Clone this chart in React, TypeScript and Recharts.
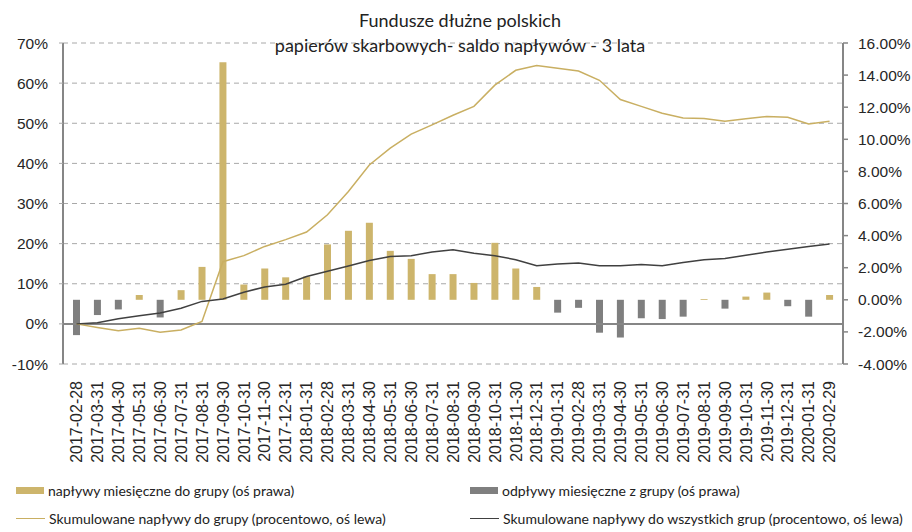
import { ComposedChart, Bar, Line, XAxis, YAxis, CartesianGrid, ReferenceLine } from 'recharts';

const dates = [
  '2017-02-28', '2017-03-31', '2017-04-30', '2017-05-31', '2017-06-30', '2017-07-31', '2017-08-31',
  '2017-09-30', '2017-10-31', '2017-11-30', '2017-12-31', '2018-01-31', '2018-02-28', '2018-03-31',
  '2018-04-30', '2018-05-31', '2018-06-30', '2018-07-31', '2018-08-31', '2018-09-30', '2018-10-31',
  '2018-11-30', '2018-12-31', '2019-01-31', '2019-02-28', '2019-03-31', '2019-04-30', '2019-05-31',
  '2019-06-30', '2019-07-31', '2019-08-31', '2019-09-30', '2019-10-31', '2019-11-30', '2019-12-31',
  '2020-01-31', '2020-02-29',
];

// monthly inflows / outflows, right axis (%)
const inflows = [
  0, 0, 0, 0.3, 0, 0.6, 2.05, 14.8, 0.95, 1.95, 1.4, 1.45, 3.45, 4.3, 4.8, 3.05, 2.55, 1.6, 1.6,
  1.05, 3.55, 1.95, 0.8, 0, 0, 0, 0, 0, 0, 0, 0.05, 0, 0.2, 0.45, 0, 0, 0.3,
];
const outflows = [
  -2.2, -0.95, -0.6, 0, -1.1, 0, 0, 0, 0, 0, 0, 0, 0, 0, 0, 0, 0, 0, 0,
  0, 0, 0, 0, -0.8, -0.5, -2.05, -2.35, -1.15, -1.2, -1.05, 0, -0.55, 0, 0, -0.4, -1.05, 0,
];

// cumulative inflows, left axis (%)
const cumGroup = [
  0, -0.9, -1.7, -1.1, -2.1, -1.5, 0.6, 15.5, 17, 19.3, 21, 22.9, 27.2, 33, 39.6, 43.8, 47.3, 49.6, 52,
  54.2, 59.5, 63.2, 64.4, 63.7, 63, 60.7, 55.9, 54.2, 52.5, 51.3, 51.2, 50.5, 51.1, 51.7, 51.5, 49.8, 50.5,
];
const cumAll = [
  0, 0.3, 1.3, 2, 2.7, 3.9, 5.6, 6.2, 7.9, 9.2, 9.9, 11.8, 13.1, 14.4, 15.8, 16.8, 17, 17.9, 18.5,
  17.6, 17, 16, 14.5, 14.9, 15.2, 14.5, 14.5, 14.8, 14.5, 15.3, 16, 16.3, 17.1, 17.9, 18.6, 19.3, 19.9,
];

const leftTicks = [-10, 0, 10, 20, 30, 40, 50, 60, 70];
const rightTicks = [-4, -2, 0, 2, 4, 6, 8, 10, 12, 14, 16];

const GOLD = '#CDB56C';
const GOLD_LINE = '#C9AF62';
const GRAY = '#7F7F7F';
const DARK = '#404040';
const AXIS = '#868686';

const data = dates.map((d, i) => ({
  date: d,
  inflow: inflows[i],
  outflow: outflows[i],
  cumGroup: cumGroup[i],
  cumAll: cumAll[i],
}));

const DateTick = (props: any) => {
  const { x, y, payload } = props;
  return (
    <text
      x={x}
      y={y}
      transform={`rotate(-90, ${x}, ${y})`}
      textAnchor="end"
      dy="0.36em"
      fontSize={16}
      fontFamily="'Liberation Sans', Arial, sans-serif"
      fill="#262626"
    >
      {payload.value}
    </text>
  );
};

const axisFont = { fontSize: 15.5, fill: '#262626', fontFamily: "'Liberation Sans', Arial, sans-serif" };
const legendFont = "Lato, 'Noto Sans', sans-serif";

export default function App() {
  return (
    <div style={{ position: 'absolute', left: 0, top: 0, width: 912, height: 532, background: '#fff' }}>
      <ComposedChart
        width={912}
        height={532}
        data={data}
        stackOffset="sign"
        margin={{ top: 43, right: 0, bottom: 68, left: 0 }}
      >
        <CartesianGrid yAxisId="left" vertical={false} stroke="#A8A8A8" strokeDasharray="5 4" />
        <XAxis
          dataKey="date"
          interval={0}
          axisLine={false}
          tickLine={false}
          height={100}
          padding={{ left: 3, right: 3 }}
          tick={<DateTick />}
          tickMargin={11}
        />
        <YAxis
          yAxisId="left"
          domain={[-10, 70]}
          ticks={leftTicks}
          interval={0}
          width={63}
          tickFormatter={(v: number) => `${v}%`}
          tick={axisFont}
          tickSize={4}
          tickMargin={11}
          tickLine={{ stroke: '#A8A8A8' }}
          axisLine={{ stroke: AXIS, strokeWidth: 2 }}
        />
        <YAxis
          yAxisId="right"
          orientation="right"
          domain={[-4, 16]}
          ticks={rightTicks}
          interval={0}
          width={69}
          tickFormatter={(v: number) => `${v.toFixed(2)}%`}
          tick={{ ...axisFont, textAnchor: 'start' }}
          tickSize={5}
          tickMargin={10}
          tickLine={{ stroke: AXIS, strokeWidth: 1.5 }}
          axisLine={{ stroke: AXIS, strokeWidth: 2 }}
        />
        <ReferenceLine yAxisId="left" y={0} stroke={AXIS} strokeWidth={2} />
        <Bar yAxisId="right" dataKey="inflow" stackId="flows" fill={GOLD} barSize={7} isAnimationActive={false} />
        <Bar yAxisId="right" dataKey="outflow" stackId="flows" fill={GRAY} barSize={7} isAnimationActive={false} />
        <Line yAxisId="left" type="linear" dataKey="cumGroup" stroke={GOLD_LINE} strokeWidth={1.5} dot={false} isAnimationActive={false} />
        <Line yAxisId="left" type="linear" dataKey="cumAll" stroke={DARK} strokeWidth={1.5} dot={false} isAnimationActive={false} />
      </ComposedChart>

      <div
        style={{
          position: 'absolute',
          left: 160,
          width: 600,
          top: 8,
          textAlign: 'center',
          fontFamily: legendFont,
          fontSize: 18,
          lineHeight: '25px',
          color: '#222',
          pointerEvents: 'none',
        }}
      >
        <div>Fundusze dłużne polskich</div>
        <div>papierów skarbowych- saldo napływów - 3 lata</div>
      </div>

      <div style={{ position: 'absolute', left: 0, top: 480, width: 912, fontFamily: legendFont, fontSize: 14, color: '#222' }}>
        <div style={{ position: 'absolute', left: 16, top: 2, display: 'flex', alignItems: 'center', gap: 4 }}>
          <span style={{ width: 28, height: 7, background: GOLD, display: 'inline-block' }} />
          <span>napływy miesięczne do grupy (oś prawa)</span>
        </div>
        <div style={{ position: 'absolute', left: 470, top: 2, display: 'flex', alignItems: 'center', gap: 4 }}>
          <span style={{ width: 28, height: 7, background: GRAY, display: 'inline-block' }} />
          <span>odpływy miesięczne z grupy (oś prawa)</span>
        </div>
        <div style={{ position: 'absolute', left: 16, top: 30, display: 'flex', alignItems: 'center', gap: 4 }}>
          <span style={{ width: 29, height: 1.5, background: GOLD_LINE, display: 'inline-block' }} />
          <span>Skumulowane napływy do grupy (procentowo, oś lewa)</span>
        </div>
        <div style={{ position: 'absolute', left: 470, top: 30, display: 'flex', alignItems: 'center', gap: 4 }}>
          <span style={{ width: 29, height: 1.5, background: DARK, display: 'inline-block' }} />
          <span style={{ whiteSpace: 'nowrap' }}>Skumulowane napływy do wszystkich grup (procentowo, oś lewa)</span>
        </div>
      </div>
    </div>
  );
}
